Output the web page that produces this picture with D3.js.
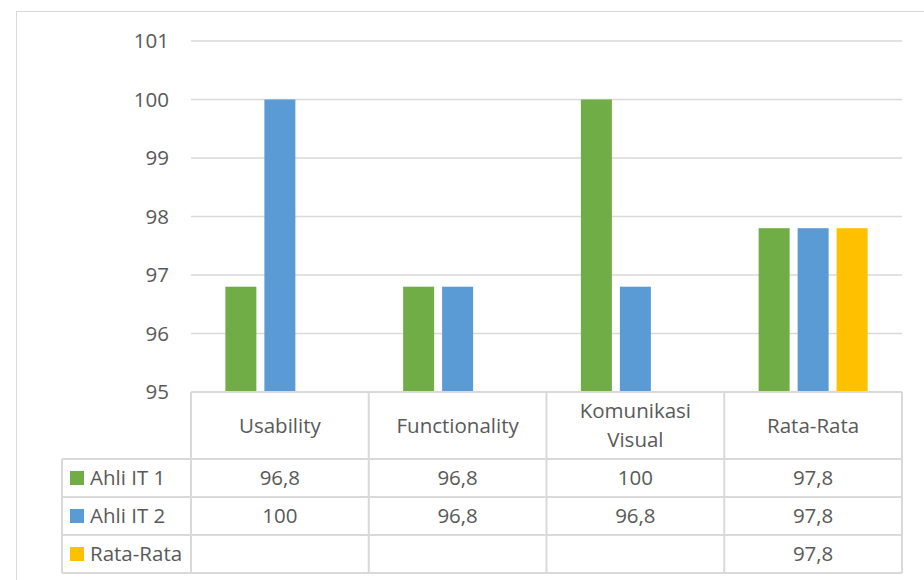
<!DOCTYPE html>
<html>
<head>
<meta charset="utf-8">
<script src="https://cdn.jsdelivr.net/npm/d3@7"></script>
<style>
  html, body { margin: 0; padding: 0; background: #fff; }
  svg { display: block; }
  text { font-family: "Open Sans", "Noto Sans", sans-serif; fill: #595959; }
</style>
</head>
<body>
<svg id="chart" width="924" height="580"></svg>
<script>
// Categories (header labels may wrap onto two lines)
const categories = ["Usability", "Functionality", "Komunikasi Visual", "Rata-Rata"];
const categoryLines = [["Usability"], ["Functionality"], ["Komunikasi", "Visual"], ["Rata-Rata"]];

// Series
const seriesNames = ["Ahli IT 1", "Ahli IT 2", "Rata-Rata"];
const seriesColors = ["#70AD47", "#5B9BD5", "#FFC000"];
const ahliIT1 = [96.8, 96.8, 100, 97.8];
const ahliIT2 = [100, 96.8, 96.8, 97.8];
const rataRata = [null, null, null, 97.8];

// Axis ticks
const yTicks = [95, 96, 97, 98, 99, 100, 101];

const seriesValues = [ahliIT1, ahliIT2, rataRata];
const fmt = v => v == null ? "" : String(v).replace(".", ",");
const fontSize = 20.5;

const svg = d3.select("#chart");
const gridColor = "#d9d9d9";

// Chart area frame
svg.append("rect")
  .attr("x", 16.5).attr("y", 11.5)
  .attr("width", 1000).attr("height", 1000)
  .attr("fill", "none").attr("stroke", gridColor).attr("stroke-width", 1);

const plotLeft = 191, plotRight = 902, plotTop = 41, plotBottom = 392;

const x = d3.scaleBand().domain(categories).range([plotLeft, plotRight]).paddingInner(0).paddingOuter(0);
const xInner = d3.scaleBand().domain(seriesNames).range([0, x.bandwidth()])
  .paddingInner(8 / 39).paddingOuter(0.882);
const y = d3.scaleLinear().domain([95, 101]).range([plotBottom, plotTop]);

// Gridlines
svg.append("g").selectAll("line").data(yTicks.slice(1)).join("line")
  .attr("x1", plotLeft).attr("x2", plotRight)
  .attr("y1", d => y(d)).attr("y2", d => y(d))
  .attr("stroke", gridColor).attr("stroke-width", 1.5);

// Y axis labels
const yAxis = d3.axisLeft(y).tickValues(yTicks).tickSize(0).tickPadding(0).tickFormat(d => d);
const yG = svg.append("g").attr("transform", `translate(${169},0)`).call(yAxis);
yG.select(".domain").remove();
yG.selectAll("text").attr("font-size", fontSize).attr("fill", "#595959")
  .style("font-family", '"Open Sans", "Noto Sans", sans-serif');

// Bars
seriesNames.forEach((name, si) => {
  const data = categories.map((c, ci) => ({ c, v: seriesValues[si][ci] })).filter(d => d.v != null);
  svg.append("g").selectAll("rect").data(data).join("rect")
    .attr("x", d => x(d.c) + xInner(name))
    .attr("width", xInner.bandwidth())
    .attr("y", d => y(d.v))
    .attr("height", d => y(95) - y(d.v))
    .attr("fill", seriesColors[si]);
});

// Data table
const tableLeft = 62;
const headerBottom = 459;
const rowH = 38;
const rowTops = seriesNames.map((_, i) => headerBottom + i * rowH);
const tableBottom = headerBottom + seriesNames.length * rowH;
const tg = svg.append("g").attr("stroke", gridColor).attr("stroke-width", 2).attr("fill", "none");

// horizontal rules
tg.append("line").attr("x1", plotLeft).attr("x2", plotRight).attr("y1", plotBottom).attr("y2", plotBottom);
[...rowTops, tableBottom].forEach(yy => {
  tg.append("line").attr("x1", tableLeft).attr("x2", plotRight).attr("y1", yy).attr("y2", yy);
});
// vertical rules
tg.append("line").attr("x1", tableLeft).attr("x2", tableLeft).attr("y1", headerBottom).attr("y2", tableBottom);
[...categories.map(c => x(c)), plotRight].forEach(xx => {
  tg.append("line").attr("x1", xx).attr("x2", xx).attr("y1", plotBottom).attr("y2", tableBottom);
});

// Header labels
categories.forEach((c, ci) => {
  const lines = categoryLines[ci];
  const cx = x(c) + x.bandwidth() / 2;
  const cy = (plotBottom + headerBottom) / 2;
  const lh = 29;
  lines.forEach((ln, li) => {
    svg.append("text")
      .attr("x", cx)
      .attr("y", cy + (li - (lines.length - 1) / 2) * lh)
      .attr("dy", "0.35em")
      .attr("text-anchor", "middle")
      .attr("font-size", fontSize)
      .text(ln);
  });
});

// Rows: legend key, name, values
seriesNames.forEach((name, si) => {
  const cy = rowTops[si] + rowH / 2;
  svg.append("rect").attr("x", 70).attr("y", cy - 7).attr("width", 14).attr("height", 14)
    .attr("fill", seriesColors[si]);
  svg.append("text").attr("x", 90).attr("y", cy).attr("dy", "0.35em")
    .attr("font-size", fontSize).text(name);
  categories.forEach((c, ci) => {
    svg.append("text")
      .attr("x", x(c) + x.bandwidth() / 2)
      .attr("y", cy).attr("dy", "0.35em")
      .attr("text-anchor", "middle")
      .attr("font-size", fontSize)
      .text(fmt(seriesValues[si][ci]));
  });
});
</script>
</body>
</html>
